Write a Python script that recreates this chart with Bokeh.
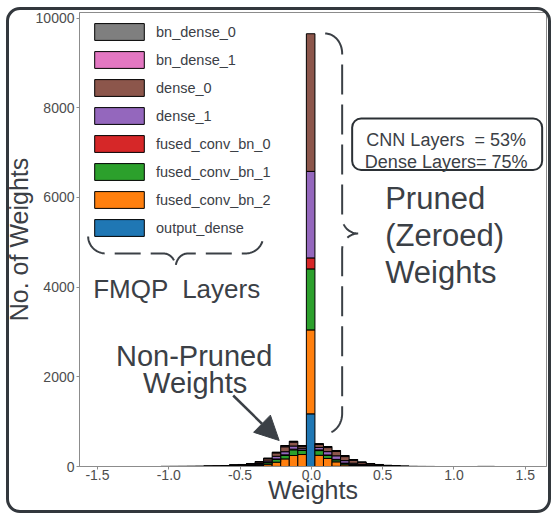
import numpy as np
from bokeh.plotting import figure
from bokeh.models import (ColumnDataSource, Legend, LegendItem, Label, Arrow, InlineStyleSheet,
                          NormalHead, BoxAnnotation, FixedTicker, CustomJSTickFormatter)
from bokeh.embed import file_html
from bokeh.resources import INLINE

# ---------------- data (39 histogram bins, width 0.06, first left edge -1.055) ----------------
bin_start = -1.055
bin_width = 0.06

output_dense    = [4, 5, 6, 8, 10, 11, 13, 17, 22, 22, 21, 18, 5, 2, 0, 0, 0, 1174, 0, 0,
                   4, 8, 18, 23, 22, 22, 16, 11, 7, 5, 3, 2, 0, 0, 0, 0, 0, 3, 3]
fused_conv_bn_2 = [0, 0, 0, 0, 0, 0, 0, 0, 0, 0, 3, 15, 45, 94, 170, 245, 267, 1872, 250, 180,
                   100, 30, 8, 2, 0, 0, 0, 0, 0, 0, 0, 0, 0, 0, 0, 0, 0, 0, 0]
fused_conv_bn_1 = [0, 0, 0, 0, 0, 0, 0, 0, 0, 2, 5, 12, 35, 60, 75, 127, 90, 1360, 105, 65,
                   45, 30, 12, 5, 2, 0, 0, 0, 0, 0, 0, 0, 0, 0, 0, 0, 0, 0, 0]
fused_conv_bn_0 = [0, 0, 0, 0, 0, 0, 0, 0, 0, 1, 2, 4, 8, 12, 15, 15, 10, 245, 15, 12,
                   10, 8, 5, 3, 2, 0, 0, 0, 0, 0, 0, 0, 0, 0, 0, 0, 0, 0, 0]
dense_1         = [0, 0, 0, 0, 0, 0, 0, 0, 2, 5, 10, 18, 30, 60, 70, 70, 40, 1929, 55, 75,
                   80, 55, 30, 15, 8, 4, 0, 0, 0, 0, 0, 0, 0, 0, 0, 0, 0, 0, 0]
dense_0         = [0, 0, 0, 0, 0, 1, 2, 4, 7, 12, 20, 35, 50, 75, 110, 85, 45, 3069, 65, 90,
                   95, 90, 65, 40, 25, 14, 6, 3, 1, 0, 0, 0, 0, 0, 0, 0, 0, 0, 0]
bn_dense_1      = [0, 0, 0, 0, 0, 0, 0, 1, 1, 2, 4, 6, 8, 10, 18, 14, 10, 0, 12, 15,
                   15, 16, 12, 8, 5, 3, 2, 1, 0, 0, 0, 0, 0, 0, 0, 0, 0, 0, 0]
bn_dense_0      = [0, 0, 0, 0, 0, 0, 0, 0, 1, 1, 2, 3, 4, 6, 10, 8, 6, 0, 8, 9,
                   8, 8, 6, 4, 3, 2, 1, 0, 0, 0, 0, 0, 0, 0, 0, 0, 0, 0, 0]

# stacking order: bottom -> top
layer_names = ["output_dense", "fused_conv_bn_2", "fused_conv_bn_1", "fused_conv_bn_0",
               "dense_1", "dense_0", "bn_dense_1", "bn_dense_0"]
layer_values = [output_dense, fused_conv_bn_2, fused_conv_bn_1, fused_conv_bn_0,
                dense_1, dense_0, bn_dense_1, bn_dense_0]
layer_colors = ["#1f77b4", "#ff7f0e", "#2ca02c", "#d62728",
                "#9467bd", "#8c564b", "#e377c2", "#7f7f7f"]
legend_order = ["bn_dense_0", "bn_dense_1", "dense_0", "dense_1",
                "fused_conv_bn_0", "fused_conv_bn_1", "fused_conv_bn_2", "output_dense"]

x_ticks = [-1.5, -1.0, -0.5, 0.0, 0.5, 1.0, 1.5]
x_tick_labels = ["-1.5", "-1.0", "-0.5", "0.0", "0.5", "1.0", "1.5"]
y_ticks = [0, 2000, 4000, 6000, 8000, 10000]
y_tick_labels = ["0", "2000", "4000", "6000", "8000", "10000"]

FONT = "Liberation Sans"
INK = "#3b4046"

# ---------------- figure ----------------
p = figure(width=552, height=515, x_range=(-1.626, 1.649), y_range=(0, 10123),
           output_backend="svg", toolbar_location=None,
           min_border_left=79, min_border_right=6, min_border_top=12, min_border_bottom=49)
# rounded outer frame drawn as an overlay that does not change the layout
p.stylesheets = [InlineStyleSheet(css="""
:host { position: relative; }
:host::after {
  content: ""; position: absolute; left: 6px; top: 7px; right: 1px; bottom: 2px;
  border: 3px solid #33383d; border-radius: 14px; box-sizing: border-box;
  pointer-events: none; z-index: 100;
}
""")]
p.background_fill_color = "white"
p.outline_line_color = "#8c8c8c"
p.xgrid.visible = False
p.ygrid.visible = False

fmt_code = """
const i = tvals.findIndex(t => Math.abs(t - tick) < 1e-6);
return i >= 0 ? tlabels[i] : '';
"""
p.xaxis.ticker = FixedTicker(ticks=x_ticks)
p.xaxis.formatter = CustomJSTickFormatter(args=dict(tvals=x_ticks, tlabels=x_tick_labels), code=fmt_code)
p.yaxis.ticker = FixedTicker(ticks=y_ticks)
p.yaxis.formatter = CustomJSTickFormatter(args=dict(tvals=y_ticks, tlabels=y_tick_labels), code=fmt_code)
for ax in (p.xaxis, p.yaxis):
    ax.axis_line_color = "#8c8c8c"
    ax.major_tick_line_color = "#8c8c8c"
    ax.major_tick_out = 3
    ax.major_tick_in = 0
    ax.minor_tick_line_color = None
    ax.major_label_text_font = FONT
    ax.major_label_text_font_size = "14px"
    ax.major_label_text_color = "#4d4d4d"
    ax.axis_label_text_font = FONT
    ax.axis_label_text_font_size = "25px"
    ax.axis_label_text_font_style = "normal"
    ax.axis_label_text_color = INK
p.xaxis.axis_label = "Weights"
p.yaxis.axis_label = "No. of Weights"
p.xaxis.major_label_standoff = 0
p.xaxis.axis_label_standoff = -7
p.yaxis.major_label_standoff = 2
p.yaxis.axis_label_standoff = 0

# ---------------- stacked histogram ----------------
n_bins = len(output_dense)
left = bin_start + bin_width * np.arange(n_bins)
right = left + bin_width
base = np.zeros(n_bins)
renderers = {}
for name, vals, col in zip(layer_names, layer_values, layer_colors):
    v = np.array(vals, dtype=float)
    top = base + v
    m = v > 0
    src = ColumnDataSource(dict(left=left[m], right=right[m], bottom=base[m], top=top[m]))
    renderers[name] = p.quad(left="left", right="right", bottom="bottom", top="top", source=src,
                             fill_color=col, line_color="black", line_width=1)
    base = top

legend = Legend(items=[LegendItem(label=n, renderers=[renderers[n]]) for n in legend_order],
                location="top_left", margin=0, padding=9, spacing=7,
                glyph_width=62, glyph_height=21, label_standoff=6,
                label_text_font=FONT, label_text_font_size="14.5px", label_text_color=INK,
                border_line_alpha=0, background_fill_alpha=0)
p.add_layout(legend)

# ---------------- annotation helpers (pixel positions -> data) ----------------
def dx(px):
    return -1.5 + (px - 97.3) / 142.6

def dy(py):
    return (466 - py) / 0.04485

def text(t, x, y, size, align="left", angle=0.0):
    p.add_layout(Label(x=x, y=y, text=t, text_font=FONT, text_font_size=f"{size}px",
                       text_color=INK, text_align=align, text_baseline="alphabetic",
                       angle=angle))

def brace(t0, t1, base_u, h1, h2, r1, r2, n=24):
    th = np.linspace(0, np.pi / 2, n)
    mid = (t0 + t1) / 2
    t_a = t0 + r1 - r1 * np.cos(th)
    u_a = base_u + h1 * np.sin(th)
    t_b = mid - r2 + r2 * np.sin(th)
    u_b = base_u + h1 + h2 * (1 - np.cos(th))
    t_half = np.concatenate([t_a, t_b])
    u_half = np.concatenate([u_a, u_b])
    t_all = np.concatenate([t_half, (2 * mid - t_half)[::-1][1:]])
    u_all = np.concatenate([u_half, u_half[::-1][1:]])
    return t_all, u_all

# brace below legend
bt, bu = brace(88, 263, 236, 17, 14, 18, 12)
p.line([dx(v) for v in bt], [dy(v) for v in bu], line_color=INK, line_width=2, line_dash="26 10")
text("FMQP", dx(93), dy(288), 26)
text("Layers", dx(182), dy(288), 26)

# brace beside the zero bar
vt, vu = brace(33, 433, 325, 17, 16, 20, 16)
p.line([dx(v) for v in vu], [dy(v) for v in vt], line_color=INK, line_width=2, line_dash="30 10")

# pruning box
p.add_layout(BoxAnnotation(left=dx(352), right=dx(542), top=dy(118), bottom=dy(169.5),
                           fill_color="white", fill_alpha=1, line_color="#2b3035",
                           line_alpha=1, line_width=2, border_radius=9))
text("CNN Layers\u00a0 = 53%", dx(446), dy(139.5), 18, align="center")
text("Dense Layers= 75%", dx(446), dy(161), 18, align="center")

text("Pruned", dx(385), dy(198), 31)
text("(Zeroed)", dx(385), dy(235), 31)
text("Weights", dx(385), dy(272), 31)

# non-pruned annotation
text("Non-Pruned", dx(194), dy(355), 29, align="center")
text("Weights", dx(195), dy(382), 29, align="center")
p.add_layout(Arrow(end=NormalHead(size=24, fill_color=INK, line_color=INK),
                   x_start=dx(233), y_start=dy(395), x_end=dx(279), y_end=dy(440),
                   line_color=INK, line_width=2.5))

open("out.html", "w").write(file_html(p, INLINE))
